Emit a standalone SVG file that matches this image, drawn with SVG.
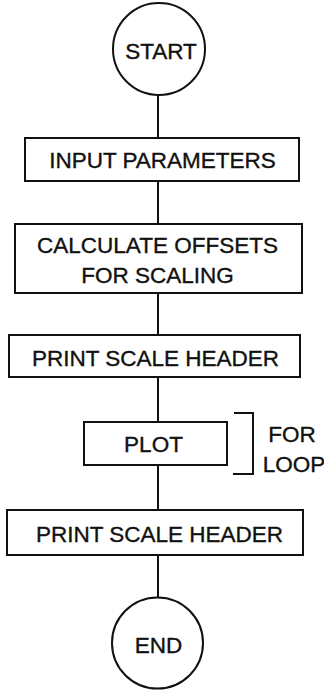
<svg xmlns="http://www.w3.org/2000/svg" width="324" height="690" viewBox="0 0 324 690">
<style>
.shape{fill:#fff;stroke:#111;stroke-width:2}
.conn{fill:none;stroke:#111;stroke-width:2}
text{font-family:"Liberation Sans",Arial,Helvetica,sans-serif;font-size:22.5px;fill:#111;stroke:#111;stroke-width:0.35;text-anchor:middle}
</style>
<rect width="324" height="690" fill="#fff"/>
<g id="connectors">
<line class="conn" x1="158" y1="95" x2="158" y2="138"/>
<line class="conn" x1="158" y1="181" x2="158" y2="224"/>
<line class="conn" x1="158" y1="293" x2="158" y2="335"/>
<line class="conn" x1="158" y1="377" x2="158" y2="422"/>
<line class="conn" x1="158" y1="465" x2="158" y2="510"/>
<line class="conn" x1="158" y1="555" x2="158" y2="597"/>
</g>
<g id="start">
<circle class="shape" cx="159" cy="49" r="46"/>
<text x="161" y="59">START</text>
</g>
<g id="input">
<rect class="shape" x="25" y="138" width="274" height="43"/>
<text x="162.5" y="168">INPUT PARAMETERS</text>
</g>
<g id="calculate">
<rect class="shape" x="15" y="224" width="287" height="69"/>
<text x="157.5" y="253">CALCULATE OFFSETS</text>
<text x="157.5" y="283">FOR SCALING</text>
</g>
<g id="header1">
<rect class="shape" x="9" y="335" width="291" height="42"/>
<text x="155.5" y="366">PRINT SCALE HEADER</text>
</g>
<g id="plot">
<rect class="shape" x="84" y="422" width="143" height="43"/>
<text x="153.5" y="451.5">PLOT</text>
</g>
<g id="forloop">
<path class="conn" d="M234 413 H253 V474 H233"/>
<text x="292" y="441.5">FOR</text>
<text x="294" y="471.5">LOOP</text>
</g>
<g id="header2">
<rect class="shape" x="7" y="510" width="296" height="45"/>
<text x="159.5" y="542">PRINT SCALE HEADER</text>
</g>
<g id="end">
<circle class="shape" cx="157.5" cy="643" r="45.5"/>
<text x="158.5" y="653">END</text>
</g>
</svg>
